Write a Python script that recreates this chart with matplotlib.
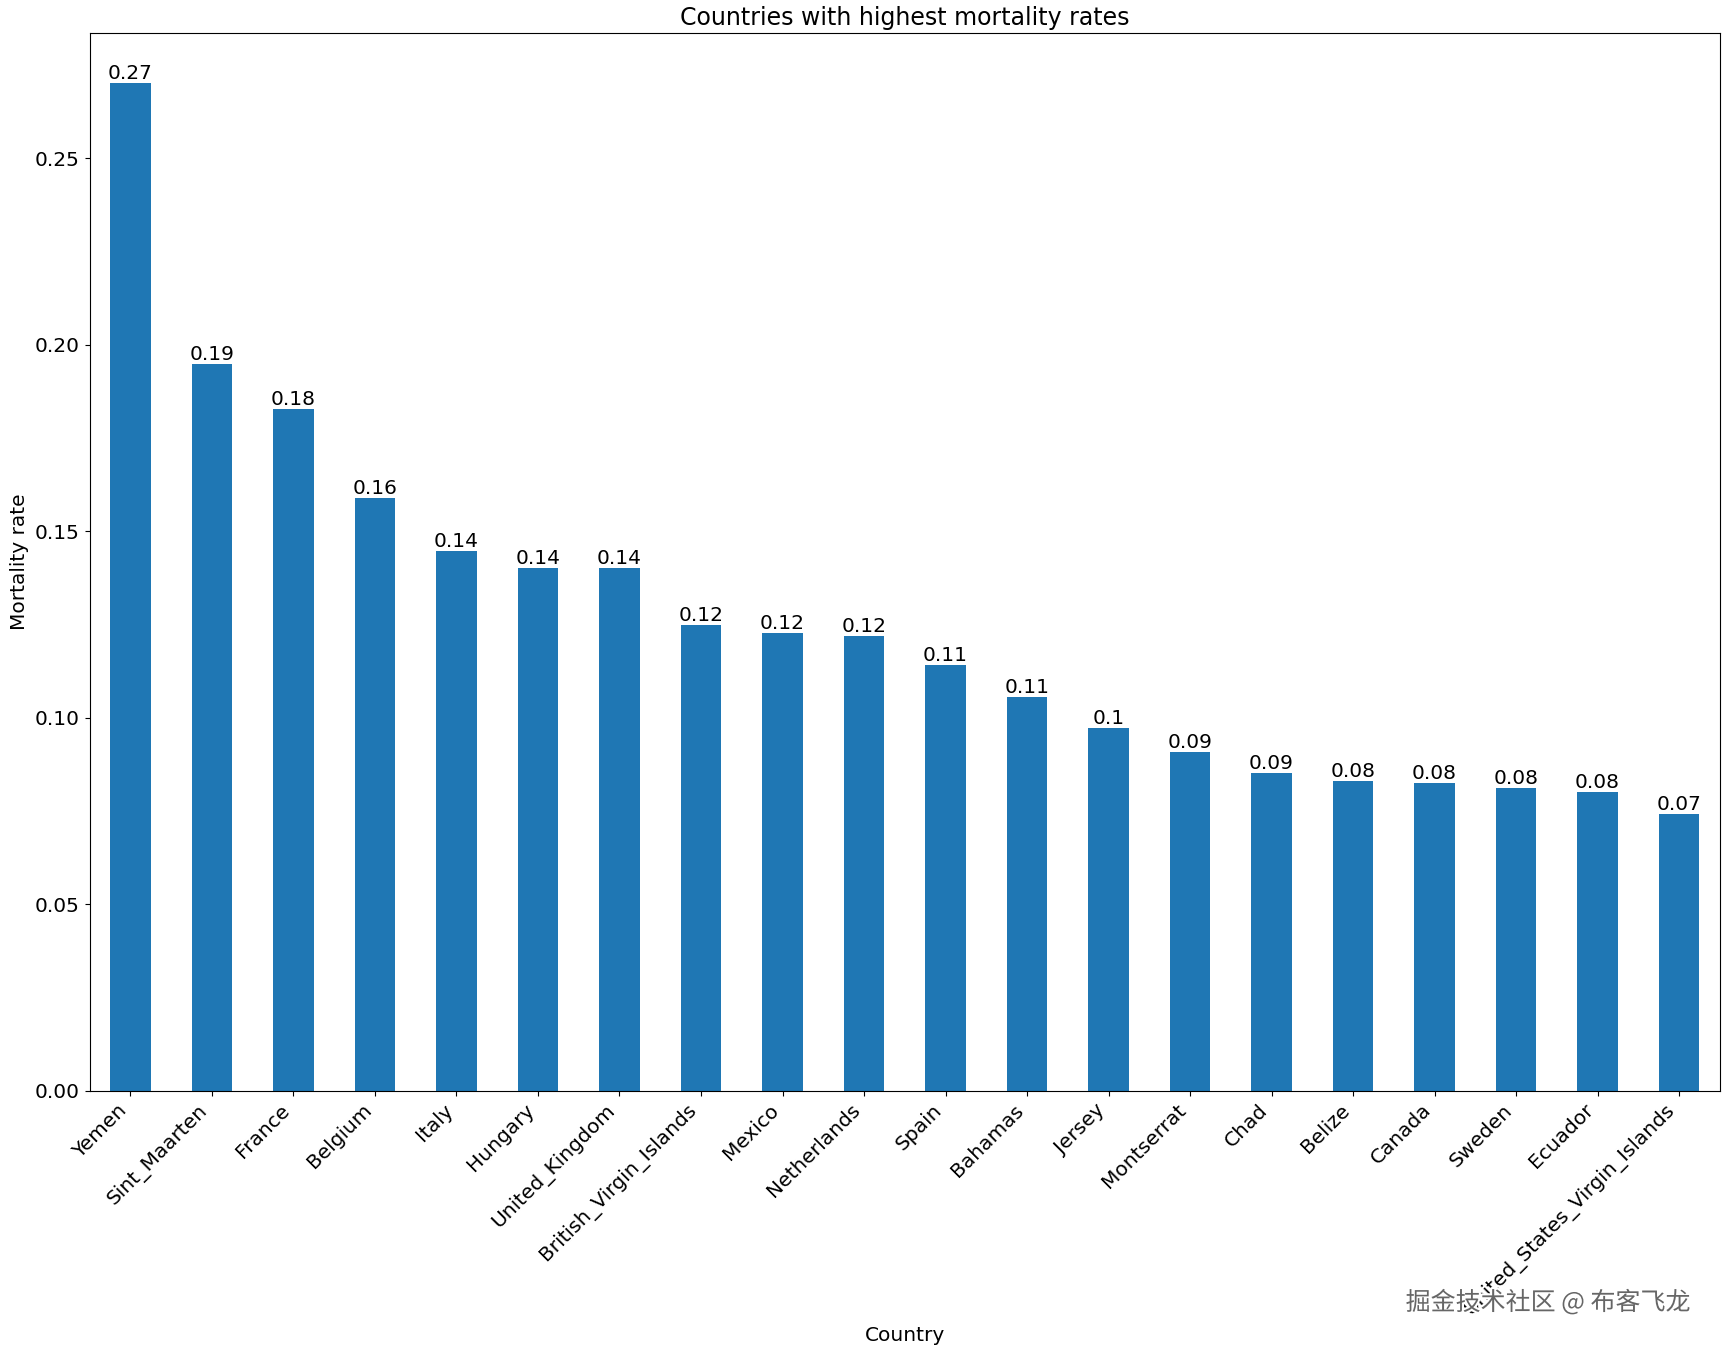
import matplotlib
matplotlib.use("Agg")
import matplotlib.pyplot as plt
import matplotlib.patheffects as pe
import numpy as np

# 数据
countries = ['Yemen', 'Sint_Maarten', 'France', 'Belgium', 'Italy', 'Hungary',
             'United_Kingdom', 'British_Virgin_Islands', 'Mexico', 'Netherlands',
             'Spain', 'Bahamas', 'Jersey', 'Montserrat', 'Chad', 'Belize',
             'Canada', 'Sweden', 'Ecuador', 'United_States_Virgin_Islands']
mortality = [0.270, 0.1949, 0.1828, 0.1589, 0.1448, 0.1401, 0.1400, 0.1248,
             0.1226, 0.1218, 0.1141, 0.1055, 0.0973, 0.0908, 0.0852, 0.0831,
             0.0825, 0.0811, 0.0802, 0.0743]

plt.rcParams['font.size'] = 14.5

fig = plt.figure(figsize=(17.25, 13.5), dpi=100)
ax = fig.add_axes([0.052, 0.192, 0.945, 0.7835])

x = np.arange(len(countries))
ax.bar(x, mortality, width=0.5, color='#1f77b4')
ax.set_xlim(-0.5, len(countries) - 0.5)
ax.set_ylim(0, max(mortality) * 1.05)

# 柱子上方显示数值
for i, v in enumerate(mortality):
    ax.text(i, v, str(round(v, 2)), ha='center', va='bottom', fontsize=14.5)

ax.set_xticks(x)
ax.set_xticklabels(countries, rotation=45, ha='right')
ax.set_title('Countries with highest mortality rates', fontsize=17)
ax.set_xlabel('Country')
ax.set_ylabel('Mortality rate')
ax.xaxis.set_label_coords(0.5, -0.222)

# 水印
fig.text(0.98, 0.035, '掘金技术社区 @ 布客飞龙', ha='right', va='center',
         fontsize=18, color='#666666', family=['Noto Sans CJK SC', 'DejaVu Sans'],
         path_effects=[pe.withStroke(linewidth=3, foreground='white')])

fig.savefig('out.png', dpi=100)
